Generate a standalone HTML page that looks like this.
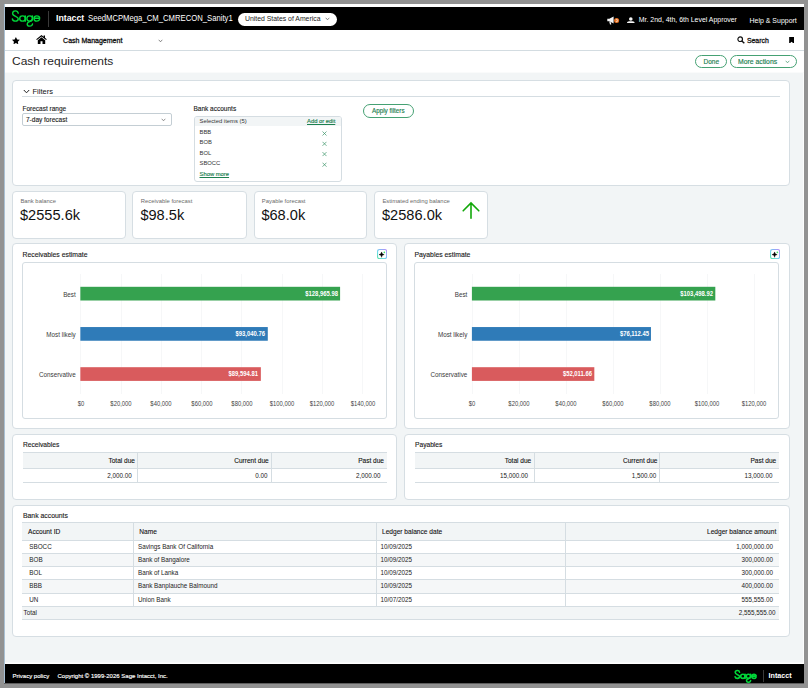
<!DOCTYPE html>
<html><head><meta charset="utf-8">
<style>
*{box-sizing:border-box;margin:0;padding:0}
html,body{width:808px;height:688px;overflow:hidden;background:#929292;font-family:"Liberation Sans",sans-serif;color:#1c1c1c}
#app{position:absolute;left:4px;top:4px;width:800px;height:679px;background:#f2f5f6;overflow:hidden}
.abs{position:absolute}
.t{position:absolute;white-space:nowrap;line-height:1;transform-origin:0 0}
.r{text-align:right}
#top{left:0;top:0;width:800px;height:26px;background:#000;border-top:3px solid #fff}
#nav{left:0;top:26px;width:800px;height:21px;background:#fff;border-bottom:1px solid #d3dce1}
#title{left:0;top:47px;width:800px;height:21px;background:#fff}
.panel{position:absolute;background:#fff;border:1px solid #d6dee3;border-radius:4px}
.pill{position:absolute;border:1px solid #45a173;border-radius:8px;color:#1f6e46;font-size:6.5px;background:#fff}
#foot{left:0;top:660px;width:800px;height:19px;background:#000}
.w{color:#fff}
.lbl{font-size:6.5px;color:#1a1a1a;-webkit-text-stroke:.12px #1a1a1a}
.sm{font-size:5.85px;color:#333}
.hl{position:absolute;height:1px;background:#d5dde2}
.vl{position:absolute;width:1px;background:#d5dde2}
.grn{color:#1c8050;-webkit-text-stroke:.15px #1c8050}
</style></head><body>
<div id="app">
<!-- coordinates inside #app are target minus 4 -->
<div id="top" class="abs"></div>
<svg class="abs" style="left:7px;top:5px" width="31" height="19" viewBox="0 0 31 19"><g fill="none" stroke="#00d639" stroke-width="1.4" stroke-linecap="round" stroke-linejoin="round">
<path d="M7.200 4.200C7 2.800 5.800 1.850 4.400 1.850 2.800 1.850 1.600 3 1.600 4.500 1.600 7.600 7.250 7 7.250 9.700 7.250 11.100 6 12.150 4.400 12.150 2.900 12.150 1.700 11.300 1.400 10"/>
<ellipse cx="11.500" cy="9.500" rx="2.800" ry="2.650"/><path d="M14.300 6.900V12.150"/>
<ellipse cx="18.700" cy="9.500" rx="2.800" ry="2.650"/><path d="M21.500 6.900V9.500C21.500 13 16.200 12.300 16.200 14.900 16.200 16.200 17.300 17.150 18.800 17.150 20.200 17.150 21.300 16.300 21.500 15"/>
<path d="M23.100 9.200H28.700C28.700 7.800 27.500 6.850 25.900 6.850 24.300 6.850 23 8 23 9.500 23 11 24.300 12.150 25.900 12.150 27 12.150 28 11.600 28.500 10.700"/>
</g></svg>
<div class="abs" style="left:43.5px;top:7px;width:1px;height:16px;background:#3a3a3a"></div>
<div class="t w" id="intacct" style="left:51.5px;top:10.400px;font-size:9px;font-weight:bold;transform:scaleX(.975)">Intacct</div>
<div class="t w" id="seed" style="left:83.5px;top:9.800px;font-size:8.700px;transform:scaleX(.887)">SeedMCPMega_CM_CMRECON_Sanity1</div>
<div class="abs" style="left:233.5px;top:9px;width:99px;height:12.5px;border-radius:6.5px;background:#fff"></div>
<div class="t" id="usa" style="left:241px;top:12.1px;font-size:6.87px;color:#222">United States of America</div>
<svg class="abs" style="left:320.5px;top:13px" width="5" height="4" viewBox="0 0 5 4"><path d="M.7.8 2.5 2.8 4.3.8" fill="none" stroke="#555" stroke-width=".7"/></svg>

<!-- top right -->
<svg class="abs" style="left:602.5px;top:11.5px" width="14" height="9" viewBox="0 0 14 9"><path d="M.3 2.800H2.300L6.600.6V7.400L2.300 5.200H.3zM2.200 5.500l1.600.7.500 2.300H3z" fill="#f4f4f4"/><circle cx="9.600" cy="4.600" r="2.500" fill="#e8701f"/><path d="M8.800 3.600h1.500v2h-1.500" stroke="#fff" stroke-width=".6" fill="none"/></svg>
<svg class="abs" style="left:623.2px;top:12.500px" width="7.600" height="6.800" viewBox="0 0 8 7"><circle cx="4" cy="2.100" r="1.900" fill="#f4f4f4"/><path d="M0 7V5.900C0 4.700 1.800 4.300 4 4.300S8 4.700 8 5.900V7z" fill="#f4f4f4"/></svg>
<div class="t w" id="mr" style="left:634.8px;top:13px;font-size:6.93px">Mr. 2nd, 4th, 6th Level Approver</div>
<div class="t w" id="help" style="left:745.5px;top:12.700px;font-size:6.98px">Help &amp; Support</div>

<div id="nav" class="abs"></div>
<svg class="abs" style="left:7.800px;top:32.700px" width="7.800" height="7.400" viewBox="0 0 10 10" preserveAspectRatio="none"><path d="M5 0 6.600 3.300 10 3.800 7.500 6.300 8.100 9.900 5 8.200 1.900 9.900 2.500 6.300 0 3.800 3.400 3.300z" fill="#000"/></svg>
<svg class="abs" style="left:32px;top:31px" width="11" height="9" viewBox="0 0 11 9"><path d="M5.500 0 .2 4.300.9 5.100 5.500 1.400 10.100 5.100 10.800 4.300 9 2.800V.6H7.600V1.700z" fill="#000"/><path d="M5.500 2.300 1.800 5.300V9H4.500V6.300H6.500V9H9.200V5.300z" fill="#000"/></svg>
<div class="t" id="cm" style="left:59.1px;top:33px;font-size:7.02px;color:#111;-webkit-text-stroke:.28px #111">Cash Management</div>
<svg class="abs" style="left:154px;top:35px" width="5" height="4" viewBox="0 0 5 4"><path d="M.7.8 2.5 2.800 4.300.8" fill="none" stroke="#555" stroke-width=".7"/></svg>
<svg class="abs" style="left:732.6px;top:31.800px" width="8" height="8" viewBox="0 0 8 8"><circle cx="3.200" cy="3.200" r="2.300" fill="none" stroke="#111" stroke-width="1.200"/><path d="M4.900 4.900 7.300 7.300" stroke="#111" stroke-width="1.400"/></svg>
<div class="t" id="search" style="left:742.900px;top:33.500px;font-size:6.9px;color:#111;-webkit-text-stroke:.28px #111">Search</div>
<svg class="abs" style="left:785.100px;top:32.600px" width="5.200" height="6.800" viewBox="0 0 5 7"><path d="M0 0H5V7L2.500 5 0 7z" fill="#000"/></svg>

<div id="title" class="abs"></div><div class="abs" style="left:0;top:68px;width:800px;height:1px;background:#fafbfb"></div>
<div class="t" id="h1" style="left:8.2px;top:51.700px;font-size:11.300px;color:#1f1f1f;transform:scaleX(1.062)">Cash requirements</div>
<div class="pill" style="left:691px;top:51px;width:32px;height:13px"></div>
<div class="t grn" id="done" style="left:699.5px;top:55.200px;font-size:6.500px">Done</div>
<div class="pill" style="left:725.5px;top:51px;width:67.500px;height:13px"></div>
<div class="t grn" id="more" style="left:734px;top:55.100px;font-size:6.830px">More actions</div>
<svg class="abs" style="left:780.7px;top:56.200px" width="5" height="4" viewBox="0 0 5 4"><path d="M.7.8 2.500 2.800 4.300.8" fill="none" stroke="#3a9467" stroke-width=".7"/></svg>

<!-- FILTERS -->
<div class="panel" style="left:8px;top:76px;width:778px;height:106px"></div>
<svg class="abs" style="left:19.200px;top:85.300px" width="7" height="5" viewBox="0 0 7 5"><path d="M.8 1 3.500 3.800 6.200 1" fill="none" stroke="#222" stroke-width="1"/></svg>
<div class="t" id="filters" style="left:28.500px;top:83.800px;font-size:7.500px;color:#111">Filters</div>
<div class="hl" style="left:18px;top:92px;width:758px"></div>
<div class="t lbl" id="fr" style="left:18.500px;top:101.900px">Forecast range</div>
<div class="abs" style="left:18px;top:109.300px;width:149.500px;height:12.400px;border:1px solid #c4ced4;border-radius:2px;background:#fff"></div>
<div class="t lbl" id="f7" style="left:22px;top:112.900px">7-day forecast</div>
<svg class="abs" style="left:156.500px;top:114px" width="5" height="4" viewBox="0 0 5 4"><path d="M.7.8 2.500 2.800 4.300.8" fill="none" stroke="#666" stroke-width=".7"/></svg>

<div class="t lbl" id="ba" style="left:189.500px;top:101.900px">Bank accounts</div>
<div class="abs" style="left:190px;top:111.500px;width:148px;height:66px;border:1px solid #d5dde2;border-radius:3px;background:#fff;overflow:hidden"><div style="height:9.500px;background:#f2f5f6"></div></div>
<div class="t sm" id="sel" style="left:195.500px;top:115.100px">Selected items (5)</div>
<div class="t sm grn" id="add" style="left:303px;top:115.100px;text-decoration:underline;text-decoration-thickness:.5px;text-underline-offset:.5px">Add or edit</div>
<div class="t sm" style="left:195.500px;top:126.100px">BBB</div>
<div class="t sm" style="left:195.500px;top:136.400px">BOB</div>
<div class="t sm" style="left:195.500px;top:146.700px">BOL</div>
<div class="t sm" style="left:195.500px;top:157.300px">SBOCC</div>
<div class="t sm grn" style="left:195.500px;top:167.900px;text-decoration:underline;text-decoration-thickness:.5px;text-underline-offset:.5px">Show more</div>
<svg class="abs" style="left:318.200px;top:126.900px" width="5" height="46" viewBox="0 0 5 46"><g stroke="#3a9467" stroke-width=".7"><path d="M.5.500l4 4M4.500.500l-4 4"/><path d="M.5 10.800l4 4M4.500 10.800l-4 4"/><path d="M.5 21.100l4 4M4.500 21.100l-4 4"/><path d="M.5 31.700l4 4M4.500 31.700l-4 4"/></g></svg>
<div class="pill" style="left:358.500px;top:100px;width:51px;height:14px"></div>
<div class="t grn" id="apply" style="left:368px;top:104px;font-size:6.300px">Apply filters</div>

<div class="panel" style="left:8px;top:187px;width:114px;height:48px"></div>
<div class="t" id="kl0" style="left:16.4px;top:194.9px;font-size:5.87px;color:#6a6a6a">Bank balance</div>
<div class="t" id="kv0" style="left:15.999999999999998px;top:204px;font-size:14.6px;color:#111">$2555.6k</div>
<div class="panel" style="left:128px;top:187px;width:115px;height:48px"></div>
<div class="t" id="kl1" style="left:136.8px;top:194.9px;font-size:5.87px;color:#6a6a6a">Receivable forecast</div>
<div class="t" id="kv1" style="left:136.4px;top:204px;font-size:14.6px;color:#111">$98.5k</div>
<div class="panel" style="left:250px;top:187px;width:113px;height:48px"></div>
<div class="t" id="kl2" style="left:257.8px;top:194.9px;font-size:5.87px;color:#6a6a6a">Payable forecast</div>
<div class="t" id="kv2" style="left:257.40000000000003px;top:204px;font-size:14.6px;color:#111">$68.0k</div>
<div class="panel" style="left:370px;top:187px;width:114px;height:48px"></div>
<div class="t" id="kl3" style="left:378.4px;top:194.9px;font-size:5.87px;color:#6a6a6a">Estimated ending balance</div>
<div class="t" id="kv3" style="left:378.0px;top:204px;font-size:14.6px;color:#111">$2586.0k</div>
<svg class="abs" style="left:457.200px;top:196.800px" width="20" height="20" viewBox="0 0 20 20"><path d="M10 17.300V2.300M2.200 9.800 10 2 17.800 9.800" fill="none" stroke="#12a80a" stroke-width="1.600" stroke-linecap="round"/></svg>
<div class="panel" style="left:8px;top:239px;width:385px;height:186px"></div>
<div class="t lbl" id="ct0" style="left:18.5px;top:247.9px;font-size:6.85px">Receivables estimate</div>
<div class="abs" style="left:18px;top:257.5px;width:365px;height:157px;border:1px solid #d5dde2;border-radius:3px;background:#fff"></div>
<svg class="abs" style="left:372.9px;top:244.8px" width="10.2" height="10.2" viewBox="0 0 10 10"><defs><linearGradient id="g0" x1="0" y1="1" x2="1" y2="0"><stop offset="0" stop-color="#58e2a6"/><stop offset=".35" stop-color="#6fdcea"/><stop offset=".65" stop-color="#86b6f6"/><stop offset="1" stop-color="#b98cf6"/></linearGradient></defs><rect x=".55" y=".55" width="8.9" height="8.9" rx="1.9" fill="#fff" stroke="url(#g0)" stroke-width="1.1"/><path d="M4.500 2.900C4.800 4.600 5.400 5.200 7 5.500 5.400 5.800 4.800 6.400 4.500 8.100 4.200 6.400 3.600 5.800 2 5.500 3.600 5.200 4.200 4.600 4.500 2.900z" fill="#000" stroke="#000" stroke-width=".5" stroke-linejoin="round"/><circle cx="7.200" cy="3.200" r=".85" fill="#3ee06a"/></svg>
<div class="abs" style="left:76.25px;top:270px;width:1px;height:120px;background:#f6f7f8"></div>
<div class="t" style="left:56.75px;top:396.8px;width:40px;text-align:center;font-size:6.4px;color:#444;transform:scaleX(.92);transform-origin:50% 50%">$0</div>
<div class="abs" style="left:116.50px;top:270px;width:1px;height:120px;background:#f6f7f8"></div>
<div class="t" style="left:97.00px;top:396.8px;width:40px;text-align:center;font-size:6.4px;color:#444;transform:scaleX(.92);transform-origin:50% 50%">$20,000</div>
<div class="abs" style="left:156.75px;top:270px;width:1px;height:120px;background:#f6f7f8"></div>
<div class="t" style="left:137.25px;top:396.8px;width:40px;text-align:center;font-size:6.4px;color:#444;transform:scaleX(.92);transform-origin:50% 50%">$40,000</div>
<div class="abs" style="left:197.00px;top:270px;width:1px;height:120px;background:#f6f7f8"></div>
<div class="t" style="left:177.50px;top:396.8px;width:40px;text-align:center;font-size:6.4px;color:#444;transform:scaleX(.92);transform-origin:50% 50%">$60,000</div>
<div class="abs" style="left:237.25px;top:270px;width:1px;height:120px;background:#f6f7f8"></div>
<div class="t" style="left:217.75px;top:396.8px;width:40px;text-align:center;font-size:6.4px;color:#444;transform:scaleX(.92);transform-origin:50% 50%">$80,000</div>
<div class="abs" style="left:277.50px;top:270px;width:1px;height:120px;background:#f6f7f8"></div>
<div class="t" style="left:258.00px;top:396.8px;width:40px;text-align:center;font-size:6.4px;color:#444;transform:scaleX(.92);transform-origin:50% 50%">$100,000</div>
<div class="abs" style="left:317.75px;top:270px;width:1px;height:120px;background:#f6f7f8"></div>
<div class="t" style="left:298.25px;top:396.8px;width:40px;text-align:center;font-size:6.4px;color:#444;transform:scaleX(.92);transform-origin:50% 50%">$120,000</div>
<div class="abs" style="left:358.00px;top:270px;width:1px;height:120px;background:#f6f7f8"></div>
<div class="t" style="left:338.50px;top:396.8px;width:40px;text-align:center;font-size:6.4px;color:#444;transform:scaleX(.92);transform-origin:50% 50%">$140,000</div>
<svg class="abs" style="left:8px;top:239px" width="385" height="186" viewBox="8 239 385 186"><rect x="76.35" y="282.8" width="259.74" height="13.7" fill="#35a24f"/><rect x="76.35" y="323.05" width="187.44" height="13.7" fill="#2f7bb8"/><rect x="76.35" y="363.2" width="180.51" height="13.7" fill="#d95b5d"/></svg>
<div class="t" style="left:11.75px;top:287.50px;width:60px;text-align:right;font-size:6.3px;color:#3a3a3a">Best</div>
<div class="t w" style="left:273.69px;top:287.00px;width:60px;text-align:right;font-size:6.4px;font-weight:bold;transform:scaleX(.92);transform-origin:100% 50%">$128,965.98</div>
<div class="t" style="left:11.75px;top:327.75px;width:60px;text-align:right;font-size:6.3px;color:#3a3a3a">Most likely</div>
<div class="t w" style="left:201.39px;top:327.25px;width:60px;text-align:right;font-size:6.4px;font-weight:bold;transform:scaleX(.92);transform-origin:100% 50%">$93,040.76</div>
<div class="t" style="left:11.75px;top:367.90px;width:60px;text-align:right;font-size:6.3px;color:#3a3a3a">Conservative</div>
<div class="t w" style="left:194.46px;top:367.40px;width:60px;text-align:right;font-size:6.4px;font-weight:bold;transform:scaleX(.92);transform-origin:100% 50%">$89,594.81</div>
<div class="panel" style="left:400px;top:239px;width:386px;height:186px"></div>
<div class="t lbl" id="ct1" style="left:410.5px;top:247.9px;font-size:6.85px">Payables estimate</div>
<div class="abs" style="left:410px;top:257.5px;width:365px;height:157px;border:1px solid #d5dde2;border-radius:3px;background:#fff"></div>
<svg class="abs" style="left:765.9px;top:244.8px" width="10.2" height="10.2" viewBox="0 0 10 10"><defs><linearGradient id="g1" x1="0" y1="1" x2="1" y2="0"><stop offset="0" stop-color="#58e2a6"/><stop offset=".35" stop-color="#6fdcea"/><stop offset=".65" stop-color="#86b6f6"/><stop offset="1" stop-color="#b98cf6"/></linearGradient></defs><rect x=".55" y=".55" width="8.9" height="8.9" rx="1.9" fill="#fff" stroke="url(#g1)" stroke-width="1.1"/><path d="M4.500 2.900C4.800 4.600 5.400 5.200 7 5.500 5.400 5.800 4.800 6.400 4.500 8.100 4.200 6.400 3.600 5.800 2 5.500 3.600 5.200 4.200 4.600 4.500 2.900z" fill="#000" stroke="#000" stroke-width=".5" stroke-linejoin="round"/><circle cx="7.200" cy="3.200" r=".85" fill="#3ee06a"/></svg>
<div class="abs" style="left:467.80px;top:270px;width:1px;height:120px;background:#f6f7f8"></div>
<div class="t" style="left:448.30px;top:396.8px;width:40px;text-align:center;font-size:6.4px;color:#444;transform:scaleX(.92);transform-origin:50% 50%">$0</div>
<div class="abs" style="left:514.80px;top:270px;width:1px;height:120px;background:#f6f7f8"></div>
<div class="t" style="left:495.30px;top:396.8px;width:40px;text-align:center;font-size:6.4px;color:#444;transform:scaleX(.92);transform-origin:50% 50%">$20,000</div>
<div class="abs" style="left:561.80px;top:270px;width:1px;height:120px;background:#f6f7f8"></div>
<div class="t" style="left:542.30px;top:396.8px;width:40px;text-align:center;font-size:6.4px;color:#444;transform:scaleX(.92);transform-origin:50% 50%">$40,000</div>
<div class="abs" style="left:608.80px;top:270px;width:1px;height:120px;background:#f6f7f8"></div>
<div class="t" style="left:589.30px;top:396.8px;width:40px;text-align:center;font-size:6.4px;color:#444;transform:scaleX(.92);transform-origin:50% 50%">$60,000</div>
<div class="abs" style="left:655.80px;top:270px;width:1px;height:120px;background:#f6f7f8"></div>
<div class="t" style="left:636.30px;top:396.8px;width:40px;text-align:center;font-size:6.4px;color:#444;transform:scaleX(.92);transform-origin:50% 50%">$80,000</div>
<div class="abs" style="left:702.80px;top:270px;width:1px;height:120px;background:#f6f7f8"></div>
<div class="t" style="left:683.30px;top:396.8px;width:40px;text-align:center;font-size:6.4px;color:#444;transform:scaleX(.92);transform-origin:50% 50%">$100,000</div>
<div class="abs" style="left:749.80px;top:270px;width:1px;height:120px;background:#f6f7f8"></div>
<div class="t" style="left:730.30px;top:396.8px;width:40px;text-align:center;font-size:6.4px;color:#444;transform:scaleX(.92);transform-origin:50% 50%">$120,000</div>
<svg class="abs" style="left:400px;top:239px" width="386" height="186" viewBox="400 239 386 186"><rect x="467.90" y="282.8" width="243.42" height="13.7" fill="#35a24f"/><rect x="467.90" y="323.05" width="179.06" height="13.7" fill="#2f7bb8"/><rect x="467.90" y="363.2" width="122.43" height="13.7" fill="#d95b5d"/></svg>
<div class="t" style="left:403.3px;top:287.50px;width:60px;text-align:right;font-size:6.3px;color:#3a3a3a">Best</div>
<div class="t w" style="left:648.92px;top:287.00px;width:60px;text-align:right;font-size:6.4px;font-weight:bold;transform:scaleX(.92);transform-origin:100% 50%">$103,498.92</div>
<div class="t" style="left:403.3px;top:327.75px;width:60px;text-align:right;font-size:6.3px;color:#3a3a3a">Most likely</div>
<div class="t w" style="left:584.56px;top:327.25px;width:60px;text-align:right;font-size:6.4px;font-weight:bold;transform:scaleX(.92);transform-origin:100% 50%">$76,112.45</div>
<div class="t" style="left:403.3px;top:367.90px;width:60px;text-align:right;font-size:6.3px;color:#3a3a3a">Conservative</div>
<div class="t w" style="left:527.93px;top:367.40px;width:60px;text-align:right;font-size:6.4px;font-weight:bold;transform:scaleX(.92);transform-origin:100% 50%">$52,011.66</div>
<div class="panel" style="left:8px;top:430px;width:385px;height:66px"></div>
<div class="t lbl" id="st0" style="left:19px;top:438.2px;font-size:6.67px">Receivables</div>
<div class="abs" style="left:18.5px;top:448px;width:364.0px;height:16.5px;background:#f2f5f6;border-top:1px solid #d5dde2;border-bottom:1px solid #d5dde2"></div>
<div class="hl" style="left:18.5px;top:477.5px;width:364.0px"></div>
<div class="vl" style="left:133px;top:448px;height:30px"></div>
<div class="vl" style="left:267px;top:448px;height:30px"></div>
<div class="t" style="left:71px;top:453.9px;width:60px;text-align:right;font-size:6.55px;color:#111;-webkit-text-stroke:.1px #111">Total due</div>
<div class="t" style="left:67.75px;top:469.3px;width:60px;text-align:right;font-size:6.3px;color:#222">2,000.00</div>
<div class="t" style="left:204.75px;top:453.9px;width:60px;text-align:right;font-size:6.55px;color:#111;-webkit-text-stroke:.1px #111">Current due</div>
<div class="t" style="left:203.5px;top:469.3px;width:60px;text-align:right;font-size:6.3px;color:#222">0.00</div>
<div class="t" style="left:320px;top:453.9px;width:60px;text-align:right;font-size:6.55px;color:#111;-webkit-text-stroke:.1px #111">Past due</div>
<div class="t" style="left:316.5px;top:469.3px;width:60px;text-align:right;font-size:6.3px;color:#222">2,000.00</div>
<div class="panel" style="left:400px;top:430px;width:386px;height:66px"></div>
<div class="t lbl" id="st1" style="left:411px;top:438.2px;font-size:6.67px">Payables</div>
<div class="abs" style="left:410.5px;top:448px;width:364.5px;height:16.5px;background:#f2f5f6;border-top:1px solid #d5dde2;border-bottom:1px solid #d5dde2"></div>
<div class="hl" style="left:410.5px;top:477.5px;width:364.5px"></div>
<div class="vl" style="left:530px;top:448px;height:30px"></div>
<div class="vl" style="left:655px;top:448px;height:30px"></div>
<div class="t" style="left:467.25px;top:453.9px;width:60px;text-align:right;font-size:6.55px;color:#111;-webkit-text-stroke:.1px #111">Total due</div>
<div class="t" style="left:464px;top:469.3px;width:60px;text-align:right;font-size:6.3px;color:#222">15,000.00</div>
<div class="t" style="left:593.5px;top:453.9px;width:60px;text-align:right;font-size:6.55px;color:#111;-webkit-text-stroke:.1px #111">Current due</div>
<div class="t" style="left:592.25px;top:469.3px;width:60px;text-align:right;font-size:6.3px;color:#222">1,500.00</div>
<div class="t" style="left:712.25px;top:453.9px;width:60px;text-align:right;font-size:6.55px;color:#111;-webkit-text-stroke:.1px #111">Past due</div>
<div class="t" style="left:708.5px;top:469.3px;width:60px;text-align:right;font-size:6.3px;color:#222">13,000.00</div>
<div class="panel" style="left:8px;top:501px;width:778px;height:132px"></div>
<div class="t lbl" id="bt" style="left:19px;top:509.2px;font-size:6.85px">Bank accounts</div>
<div class="abs" style="left:18px;top:518px;width:757px;height:19px;background:#f2f5f6;border-top:1px solid #d5dde2;border-bottom:1px solid #d5dde2"></div>
<div class="abs" style="left:18px;top:537px;width:757px;height:12px;background:#fff"></div>
<div class="hl" style="left:18px;top:549px;width:757px"></div>
<div class="t" style="left:25.3px;top:539.6px;font-size:6.3px;color:#222">SBOCC</div>
<div class="t" style="left:134px;top:539.6px;font-size:6.3px;color:#222">Savings Bank Of California</div>
<div class="t" style="left:376.5px;top:539.6px;font-size:6.3px;color:#222">10/09/2025</div>
<div class="t" style="left:669px;top:539.6px;width:100px;text-align:right;font-size:6.3px;color:#222">1,000,000.00</div>
<div class="abs" style="left:18px;top:550px;width:757px;height:12px;background:#f5f7f8"></div>
<div class="hl" style="left:18px;top:562px;width:757px"></div>
<div class="t" style="left:25.3px;top:552.85px;font-size:6.3px;color:#222">BOB</div>
<div class="t" style="left:134px;top:552.85px;font-size:6.3px;color:#222">Bank of Bangalore</div>
<div class="t" style="left:376.5px;top:552.85px;font-size:6.3px;color:#222">10/09/2025</div>
<div class="t" style="left:669px;top:552.85px;width:100px;text-align:right;font-size:6.3px;color:#222">300,000.00</div>
<div class="abs" style="left:18px;top:563px;width:757px;height:12px;background:#fff"></div>
<div class="hl" style="left:18px;top:575px;width:757px"></div>
<div class="t" style="left:25.3px;top:566.1px;font-size:6.3px;color:#222">BOL</div>
<div class="t" style="left:134px;top:566.1px;font-size:6.3px;color:#222">Bank of Lanka</div>
<div class="t" style="left:376.5px;top:566.1px;font-size:6.3px;color:#222">10/09/2025</div>
<div class="t" style="left:669px;top:566.1px;width:100px;text-align:right;font-size:6.3px;color:#222">300,000.00</div>
<div class="abs" style="left:18px;top:576px;width:757px;height:13px;background:#f5f7f8"></div>
<div class="hl" style="left:18px;top:589px;width:757px"></div>
<div class="t" style="left:25.3px;top:579.35px;font-size:6.3px;color:#222">BBB</div>
<div class="t" style="left:134px;top:579.35px;font-size:6.3px;color:#222">Bank Banplauche Balmound</div>
<div class="t" style="left:376.5px;top:579.35px;font-size:6.3px;color:#222">10/09/2025</div>
<div class="t" style="left:669px;top:579.35px;width:100px;text-align:right;font-size:6.3px;color:#222">400,000.00</div>
<div class="abs" style="left:18px;top:590px;width:757px;height:12px;background:#fff"></div>
<div class="hl" style="left:18px;top:602px;width:757px"></div>
<div class="t" style="left:25.3px;top:592.6px;font-size:6.3px;color:#222">UN</div>
<div class="t" style="left:134px;top:592.6px;font-size:6.3px;color:#222">Union Bank</div>
<div class="t" style="left:376.5px;top:592.6px;font-size:6.3px;color:#222">10/07/2025</div>
<div class="t" style="left:669px;top:592.6px;width:100px;text-align:right;font-size:6.3px;color:#222">555,555.00</div>
<div class="abs" style="left:18px;top:603px;width:757px;height:12px;background:#f2f5f6"></div>
<div class="hl" style="left:18px;top:615px;width:757px"></div>
<div class="t" style="left:19.5px;top:605.8px;font-size:6.3px;color:#222">Total</div>
<div class="t" style="left:671.5px;top:605.8px;width:100px;text-align:right;font-size:6.3px;color:#222">2,555,555.00</div>
<div class="vl" style="left:129px;top:518px;height:84px"></div>
<div class="vl" style="left:372px;top:518px;height:84px"></div>
<div class="vl" style="left:561px;top:518px;height:84px"></div>
<div class="t" style="left:24px;top:525px;font-size:6.6px;color:#111;-webkit-text-stroke:.1px #111">Account ID</div>
<div class="t" style="left:135.3px;top:525px;font-size:6.6px;color:#111;-webkit-text-stroke:.1px #111">Name</div>
<div class="t" style="left:378px;top:525px;font-size:6.6px;color:#111;-webkit-text-stroke:.1px #111">Ledger balance date</div>
<div class="t" style="left:672.3px;top:525px;width:100px;text-align:right;font-size:6.6px;color:#111;-webkit-text-stroke:.1px #111">Ledger balance amount</div>
<div class="abs" style="left:0;top:658px;width:800px;height:1px;background:#f8fafa"></div><div class="abs" style="left:0;top:659px;width:800px;height:1px;background:#fff"></div>
<div class="abs" style="left:799px;top:69px;width:1px;height:591px;background:#fcfdfd"></div>
<div id="foot" class="abs"></div>
<div class="abs" style="left:0;top:0;width:1px;height:679px;background:#a9c0d3"></div>
<div class="t w" id="pp" style="left:8.500px;top:669.200px;font-size:6px;-webkit-text-stroke:.15px #fff">Privacy policy</div>
<div class="t w" id="cr" style="left:53.500px;top:669.200px;font-size:6px;-webkit-text-stroke:.15px #fff">Copyright © 1999-2026 Sage Intacct, Inc.</div>
<svg class="abs" style="left:730.4px;top:665px" width="23.96" height="14.7" viewBox="0 0 31 19"><g fill="none" stroke="#00d639" stroke-width="2.05" stroke-linecap="round" stroke-linejoin="round">
<path d="M7.200 4.200C7 2.800 5.800 1.850 4.400 1.850 2.800 1.850 1.600 3 1.600 4.500 1.600 7.600 7.250 7 7.250 9.700 7.250 11.100 6 12.150 4.400 12.150 2.900 12.150 1.700 11.300 1.400 10"/>
<ellipse cx="11.500" cy="9.500" rx="2.800" ry="2.650"/><path d="M14.300 6.900V12.150"/>
<ellipse cx="18.700" cy="9.500" rx="2.800" ry="2.650"/><path d="M21.500 6.900V9.500C21.500 13 16.200 12.300 16.200 14.900 16.200 16.200 17.300 17.150 18.800 17.150 20.200 17.150 21.300 16.300 21.500 15"/>
<path d="M23.100 9.200H28.700C28.700 7.800 27.500 6.850 25.900 6.850 24.300 6.850 23 8 23 9.500 23 11 24.300 12.150 25.900 12.150 27 12.150 28 11.600 28.500 10.700"/>
</g></svg>
<div class="abs" style="left:758.500px;top:666px;width:1px;height:11.500px;background:#3a3a3a"></div>
<div class="t w" id="intacct2" style="left:764.500px;top:668.400px;font-size:7.200px;font-weight:bold">Intacct</div>
</div>
<div class="abs" style="left:4px;top:683px;width:800px;height:1px;background:#5e5e5e"></div>
</body></html>
